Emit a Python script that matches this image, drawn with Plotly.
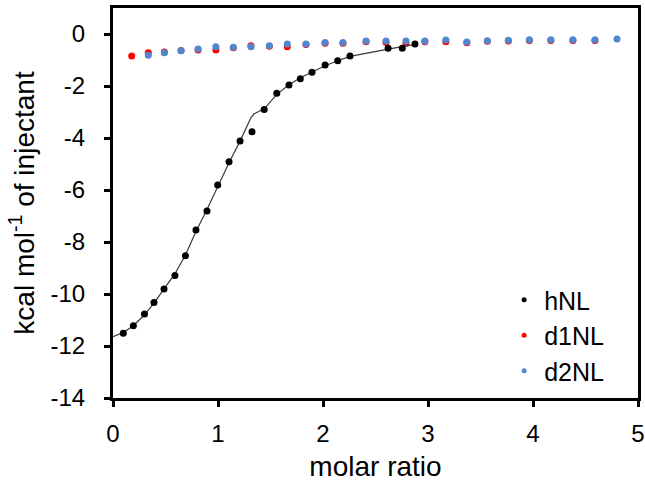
import plotly.graph_objects as go

# hNL measured data
h_x = [0.098, 0.194, 0.30, 0.39, 0.486, 0.59, 0.69, 0.79, 0.895, 0.997, 1.105, 1.21,
       1.324, 1.44, 1.56, 1.676, 1.784, 1.895, 2.02, 2.14, 2.257, 2.62, 2.755, 2.876]
h_y = [-11.51, -11.22, -10.77, -10.33, -9.81, -9.29, -8.53, -7.54, -6.81, -5.81, -4.91, -4.12,
       -3.76, -2.90, -2.28, -1.96, -1.72, -1.47, -1.19, -1.03, -0.85, -0.55, -0.55, -0.38]

# hNL fit curve
fit_x = [0.0, 0.098, 0.194, 0.30, 0.39, 0.486, 0.59, 0.69, 0.79, 0.895, 0.997, 1.105, 1.21,
         1.31, 1.34, 1.44, 1.56, 1.676, 1.784, 1.895, 2.02, 2.14, 2.257, 2.62, 2.755, 2.876]
fit_y = [-11.64, -11.48, -11.22, -10.80, -10.35, -9.82, -9.22, -8.50, -7.60, -6.75, -5.85, -4.95,
         -4.12, -3.25, -3.08, -2.88, -2.32, -1.95, -1.68, -1.45, -1.22, -1.03, -0.86, -0.58, -0.50, -0.40]

# d1NL
d1_x = [0.178, 0.336, 0.489, 0.648, 0.81, 0.98, 1.146, 1.314, 1.489, 1.66, 1.838, 2.02, 2.19,
        2.41, 2.6, 2.79, 2.97, 3.17, 3.37, 3.565, 3.765, 3.965, 4.17, 4.38, 4.59]
d1_y = [-0.85, -0.72, -0.69, -0.63, -0.62, -0.62, -0.53, -0.45, -0.47, -0.49, -0.40, -0.36, -0.36,
        -0.30, -0.33, -0.36, -0.30, -0.30, -0.34, -0.28, -0.27, -0.25, -0.25, -0.25, -0.25]

# d2NL
d2_x = [0.336, 0.489, 0.648, 0.81, 0.98, 1.146, 1.314, 1.489, 1.66, 1.838, 2.02, 2.19,
        2.41, 2.6, 2.79, 2.97, 3.17, 3.37, 3.565, 3.765, 3.965, 4.17, 4.38, 4.59, 4.80]
d2_y = [-0.82, -0.72, -0.64, -0.58, -0.49, -0.51, -0.49, -0.45, -0.38, -0.38, -0.33, -0.33,
        -0.27, -0.27, -0.27, -0.27, -0.23, -0.31, -0.26, -0.24, -0.22, -0.22, -0.22, -0.22, -0.19]

x_ticks = [0, 1, 2, 3, 4, 5]
y_ticks = [0, -2, -4, -6, -8, -10, -12, -14]

RED = "#FF0000"
BLUE = "#4F88CF"
BLACK = "#000000"
FONT = "Liberation Sans, Arial, sans-serif"

fig = go.Figure()
fig.add_trace(go.Scatter(x=d1_x, y=d1_y, mode="markers", showlegend=False,
                         marker=dict(color=RED, size=7)))
fig.add_trace(go.Scatter(x=d2_x, y=d2_y, mode="markers", showlegend=False,
                         marker=dict(color=BLUE, size=7)))
fig.add_trace(go.Scatter(x=fit_x, y=fit_y, mode="lines", showlegend=False,
                         line=dict(color="#3a3a3a", width=1.2)))
fig.add_trace(go.Scatter(x=h_x, y=h_y, mode="markers", showlegend=False,
                         marker=dict(color=BLACK, size=7)))

# legend entries
for name, col in [("hNL", BLACK), ("d1NL", RED), ("d2NL", BLUE)]:
    fig.add_trace(go.Scatter(x=[None], y=[None], mode="markers", name=name,
                             marker=dict(color=col, size=5)))

axis_common = dict(
    showline=True, linecolor="black", linewidth=3, mirror=True,
    ticks="outside", ticklen=6, tickwidth=3, tickcolor="black",
    showgrid=False, zeroline=False, automargin=False,
    tickfont=dict(family=FONT, size=24, color="black"),
)

fig.update_xaxes(range=[0, 5], tickvals=x_ticks, ticktext=[str(v) for v in x_ticks],
                 title=dict(text="molar ratio", font=dict(family=FONT, size=28, color="black"),
                            standoff=12),
                 ticklabelstandoff=6, **axis_common)
fig.update_yaxes(range=[-14, 1], tickvals=y_ticks, ticktext=[str(v) for v in y_ticks],
                 title=dict(text="kcal mol<sup>-1</sup> of injectant",
                            font=dict(family=FONT, size=28, color="black"), standoff=8),
                 ticklabelstandoff=14, **axis_common)

fig.update_layout(
    width=645, height=482,
    margin=dict(l=113, r=7, t=8, b=84),
    plot_bgcolor="white", paper_bgcolor="white",
    font=dict(family=FONT, color="black"),
    legend=dict(x=0.745, xanchor="left", y=0.01, yanchor="bottom",
                font=dict(family=FONT, size=25, color="black"),
                bgcolor="rgba(0,0,0,0)", borderwidth=0, tracegroupgap=0),
)

fig.write_html("out.html", config={"displayModeBar": False},
               post_script="document.body.style.margin='0';")
